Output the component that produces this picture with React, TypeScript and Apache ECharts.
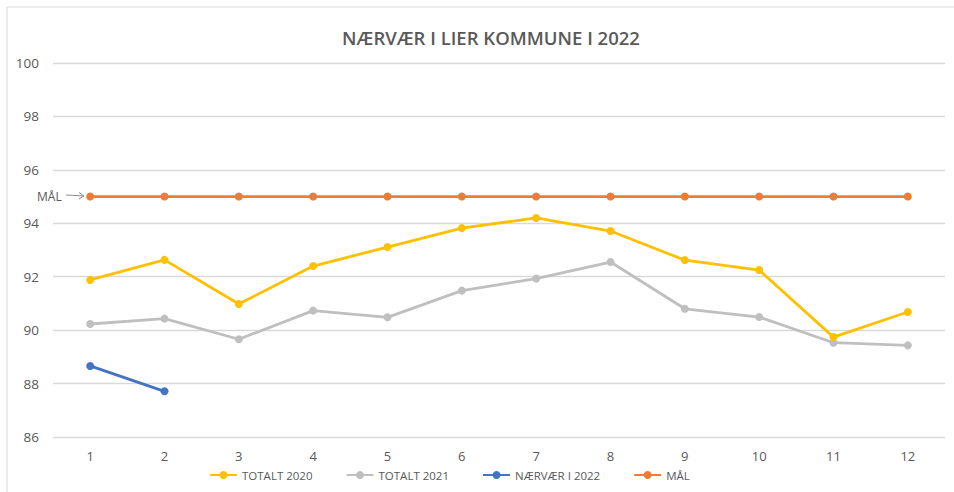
import React, { useEffect, useRef } from "react";
import * as echarts from "echarts";

const months = ["1", "2", "3", "4", "5", "6", "7", "8", "9", "10", "11", "12"];
const totalt2020 = [91.88, 92.63, 90.98, 92.4, 93.11, 93.82, 94.2, 93.71, 92.62, 92.25, 89.74, 90.68];
const totalt2021 = [90.23, 90.43, 89.66, 90.73, 90.48, 91.48, 91.93, 92.55, 90.8, 90.49, 89.53, 89.43];
const naervaer2022 = [88.66, 87.71];
const maal = [95, 95, 95, 95, 95, 95, 95, 95, 95, 95, 95, 95];

const FONT = "'Open Sans', 'Liberation Sans', sans-serif";
const TXT = "#595959";

export default function App() {
  const ref = useRef<HTMLDivElement>(null);
  useEffect(() => {
    const chart = echarts.init(ref.current!, undefined, { renderer: "svg" });
    const mk = (name: string, data: number[], color: string, z: number) => ({
      name,
      type: "line",
      data,
      z,
      symbol: "circle",
      symbolSize: 8,
      lineStyle: { width: 2.8, color },
      itemStyle: { color },
    });
    chart.setOption({
      animation: false,
      textStyle: { fontFamily: FONT },
      title: {
        text: "NÆRVÆR I LIER KOMMUNE I 2022",
        left: 486,
        textAlign: "center",
        top: 23,
        textStyle: { fontFamily: FONT, fontSize: 18.5, fontWeight: 600, color: TXT },
      },
      grid: { left: 53, right: 9, top: 63, bottom: 55, containLabel: false },
      xAxis: {
        type: "category",
        data: months,
        boundaryGap: true,
        axisLine: { show: false },
        axisTick: { show: false },
        axisLabel: { color: TXT, fontSize: 13, margin: 12, fontFamily: FONT },
      },
      yAxis: {
        type: "value",
        min: 86,
        max: 100,
        interval: 2,
        axisLine: { show: false },
        axisTick: { show: false },
        axisLabel: { color: TXT, fontSize: 13.5, margin: 14, fontFamily: FONT },
        splitLine: { lineStyle: { color: "#d9d9d9", width: 1.3 } },
      },
      legend: {
        bottom: 6,
        left: 204,
        itemGap: 33,
        itemWidth: 27,
        itemHeight: 10,
        textStyle: { color: TXT, fontSize: 11.5, fontFamily: FONT },
        data: ["TOTALT 2020", "TOTALT 2021", "NÆRVÆR I 2022", "MÅL"],
      },
      graphic: [
        {
          type: "rect",
          shape: { x: 7, y: 7, width: 980, height: 520 },
          style: { fill: "none", stroke: "#d9d9d9", lineWidth: 1 },
          silent: true,
        },
        {
          type: "text",
          x: 37,
          y: 196,
          style: { text: "MÅL", fill: TXT, fontSize: 12, fontFamily: FONT, verticalAlign: "middle" },
        },
        {
          type: "line",
          shape: { x1: 66, y1: 195, x2: 84, y2: 196 },
          style: { stroke: "#8c8c8c", lineWidth: 1 },
        },
        {
          type: "polyline",
          shape: { points: [[79, 192.5], [84, 196], [79, 199]] },
          style: { stroke: "#8c8c8c", lineWidth: 1, fill: "none" },
        },
      ],
      series: [
        mk("TOTALT 2020", totalt2020, "#FFC000", 4),
        mk("TOTALT 2021", totalt2021, "#BFBFBF", 3),
        mk("NÆRVÆR I 2022", naervaer2022, "#4472C4", 5),
        mk("MÅL", maal, "#ED7D31", 6),
      ],
    });
    return () => chart.dispose();
  }, []);
  return (
    <div
      ref={ref}
      style={{ position: "absolute", left: 0, top: 0, width: 954, height: 492, background: "#fff" }}
    />
  );
}
